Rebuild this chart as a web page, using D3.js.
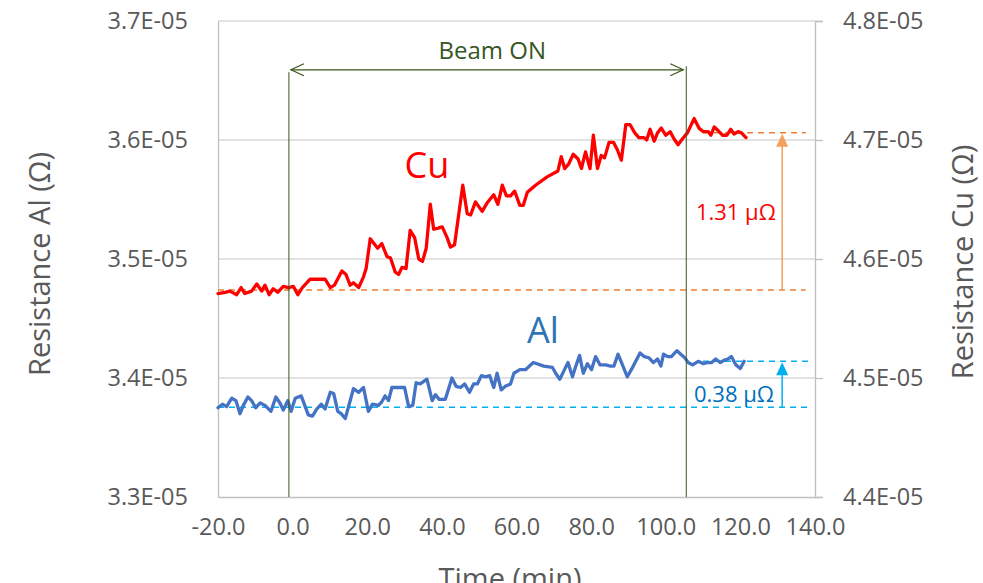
<!doctype html>
<html>
<head>
<meta charset="UTF-8">
<title>Resistance Al / Cu - beam on</title>
<script src="https://d3js.org/d3.v7.min.js"></script>
<style>
  body { margin: 0; background: #fff; }
  svg text { font-family: "Open Sans", "Noto Sans", sans-serif; }
</style>
</head>
<body>
<svg width="983" height="583"></svg>
<script>
// time in minutes, resistance in micro-ohm (1 uOhm = 1E-06 Ohm)
var cuTime = [-20.0,-18.1,-16.8,-15.0,-13.8,-12.8,-11.0,-9.6,-8.3,-7.4,
  -6.3,-5.2,-4.0,-2.5,-1.1,0.2,1.4,2.6,4.7,6.0,
  8.7,10.1,11.2,13.2,14.3,15.4,16.3,17.7,19.0,19.7,
  20.8,22.8,23.9,25.3,26.2,27.5,28.4,29.3,30.4,31.5,
  32.7,33.8,34.8,35.8,36.9,37.8,39.0,40.1,41.4,42.3,
  43.4,45.6,46.8,47.7,49.0,50.8,52.1,53.9,55.0,56.2,
  57.3,58.4,59.5,60.9,61.8,62.9,65.1,68.2,71.1,72.0,
  72.9,74.0,75.2,76.5,77.4,78.5,79.7,80.6,81.7,82.7,
  83.6,84.8,86.0,87.0,88.1,89.3,90.4,91.7,92.8,94.2,
  94.9,95.8,96.9,97.8,98.8,100.0,101.2,102.2,103.3,104.5,
  105.8,107.6,108.9,110.1,111.4,112.1,113.0,114.0,115.2,116.4,
  117.4,118.3,119.4,120.3,121.5];
var cuValue = [45.71,45.72,45.73,45.70,45.76,45.71,45.73,45.79,45.73,45.78,
  45.70,45.75,45.72,45.77,45.76,45.77,45.70,45.76,45.83,45.83,
  45.83,45.76,45.78,45.90,45.87,45.78,45.80,45.76,45.85,45.92,
  46.17,46.09,46.13,46.02,46.01,45.89,45.87,45.93,45.92,46.24,
  46.18,46.00,45.98,46.09,46.46,46.25,46.26,46.27,46.18,46.10,
  46.12,46.62,46.38,46.37,46.48,46.40,46.47,46.54,46.46,46.62,
  46.53,46.53,46.57,46.45,46.45,46.56,46.62,46.69,46.74,46.86,
  46.76,46.80,46.88,46.84,46.76,46.90,46.76,47.04,46.76,46.87,
  46.85,46.98,46.98,46.92,46.83,47.13,47.13,47.06,47.02,47.02,
  47.00,47.09,46.99,47.06,47.10,47.04,47.07,47.01,46.96,47.01,
  47.06,47.18,47.10,47.07,47.07,47.04,47.11,47.08,47.04,47.04,
  47.09,47.05,47.07,47.06,47.02];

var alTime = [-20.0,-18.8,-17.7,-16.3,-15.2,-14.1,-13.2,-12.0,-11.0,-9.9,
  -8.7,-7.4,-5.8,-4.5,-3.4,-2.5,-1.3,-0.4,0.7,2.3,
  4.2,5.3,6.5,7.7,8.7,10.1,11.0,12.1,13.0,14.1,
  15.0,16.3,17.7,19.0,20.3,21.4,23.0,23.9,24.8,25.7,
  26.6,28.0,30.0,31.1,32.2,33.1,34.2,36.0,37.4,38.3,
  39.3,40.9,42.7,43.8,45.0,46.1,47.4,48.5,49.5,50.6,
  51.7,52.8,53.9,54.8,55.9,57.0,58.4,59.3,60.9,62.4,
  64.5,67.3,69.6,70.5,71.6,72.7,73.8,75.0,75.8,76.9,
  77.9,79.0,80.1,81.2,82.4,83.9,85.2,86.1,87.2,88.4,
  89.7,91.3,93.1,94.2,95.5,96.7,97.8,98.7,99.4,100.5,
  101.5,103.0,104.0,105.1,106.0,107.2,108.7,110.1,111.2,112.3,
  113.4,114.6,115.7,116.7,117.6,118.8,120.0,121.0];
var alValue = [33.75,33.78,33.76,33.83,33.81,33.70,33.77,33.84,33.81,33.75,
  33.79,33.77,33.72,33.84,33.79,33.73,33.81,33.72,33.83,33.85,
  33.69,33.68,33.74,33.78,33.74,33.88,33.87,33.72,33.70,33.66,
  33.76,33.91,33.88,33.92,33.72,33.78,33.77,33.80,33.85,33.81,
  33.92,33.92,33.92,33.76,33.77,33.96,33.95,33.99,33.81,33.86,
  33.82,33.82,34.00,33.93,33.92,33.95,33.88,33.95,33.95,34.02,
  34.01,34.02,33.92,34.04,33.90,33.93,33.95,34.04,34.07,34.07,
  34.13,34.10,34.09,34.04,33.99,34.06,34.13,34.01,34.09,34.19,
  34.04,34.12,34.07,34.18,34.11,34.11,34.10,34.10,34.20,34.11,
  34.01,34.10,34.21,34.18,34.17,34.13,34.16,34.10,34.20,34.18,
  34.18,34.23,34.20,34.17,34.13,34.11,34.14,34.12,34.13,34.13,
  34.16,34.13,34.15,34.16,34.18,34.11,34.08,34.14];

var xTicks = [-20, 0, 20, 40, 60, 80, 100, 120, 140];
var xTickLabels = ["-20.0","0.0","20.0","40.0","60.0","80.0","100.0","120.0","140.0"];
var alTicks = [33, 34, 35, 36, 37];
var alTickLabels = ["3.3E-05","3.4E-05","3.5E-05","3.6E-05","3.7E-05"];
var cuTicks = [44, 45, 46, 47, 48];
var cuTickLabels = ["4.4E-05","4.5E-05","4.6E-05","4.7E-05","4.8E-05"];

// annotation values
var beamOn = [-1, 105.5];
var cuShift = [45.74, 47.06];
var alShift = [33.755, 34.14];

var svg = d3.select("svg");
var plotL = 218, plotR = 815, plotT = 21, plotB = 497;

var x = d3.scaleLinear().domain([-20, 140]).range([plotL, plotR]);
var yAl = d3.scaleLinear().domain([33, 37]).range([plotB, plotT]);
var yCu = d3.scaleLinear().domain([44, 48]).range([plotB, plotT]);

var grey = "#595959";

// gridlines
svg.append("g").selectAll("line").data(alTicks.slice(1)).enter().append("line")
  .attr("x1", plotL).attr("x2", plotR)
  .attr("y1", function(d){ return yAl(d); }).attr("y2", function(d){ return yAl(d); })
  .attr("stroke", "#D9D9D9").attr("stroke-width", 1.3);

// axes
var gLeft = svg.append("g").attr("transform", "translate(" + plotL + ",0)")
  .call(d3.axisLeft(yAl).tickValues(alTicks).tickFormat(function(d,i){ return alTickLabels[i]; })
    .tickSize(0).tickPadding(30));
var gRight = svg.append("g").attr("transform", "translate(" + plotR + ",0)")
  .call(d3.axisRight(yCu).tickValues(cuTicks).tickFormat(function(d,i){ return cuTickLabels[i]; })
    .tickSize(8).tickPadding(20));
var gBottom = svg.append("g").attr("transform", "translate(0," + plotB + ")")
  .call(d3.axisBottom(x).tickValues(xTicks).tickFormat(function(d,i){ return xTickLabels[i]; })
    .tickSize(0).tickPadding(21));

[gLeft, gRight, gBottom].forEach(function(g){
  g.selectAll("path.domain").attr("stroke", "#BFBFBF").attr("stroke-width", 1.3);
  g.selectAll(".tick line").attr("stroke", "#BFBFBF").attr("stroke-width", 1.3);
  g.selectAll("text").attr("fill", grey).style("font-size", "23.5px")
    .style("font-family", "'Open Sans', sans-serif");
});

// axis titles
svg.append("text").attr("transform", "translate(50,264) rotate(-90)")
  .attr("text-anchor", "middle").attr("fill", grey).style("font-size", "29px")
  .text("Resistance Al (Ω)");
svg.append("text").attr("transform", "translate(973,262) rotate(-90)")
  .attr("text-anchor", "middle").attr("fill", grey).style("font-size", "29px")
  .text("Resistance Cu (Ω)");
svg.append("text").attr("x", 510).attr("y", 589)
  .attr("text-anchor", "middle").attr("fill", grey).style("font-size", "29px")
  .text("Time (min)");

// dashed reference levels
var dash = svg.append("g").attr("stroke-width", 1.5).attr("stroke-dasharray", "6,5").attr("fill", "none");
dash.append("line").attr("x1", x(-20)).attr("x2", x(137.5))
  .attr("y1", yCu(cuShift[0])).attr("y2", yCu(cuShift[0])).attr("stroke", "#ED7D31");
dash.append("line").attr("x1", x(110)).attr("x2", x(137.5))
  .attr("y1", yCu(cuShift[1])).attr("y2", yCu(cuShift[1])).attr("stroke", "#ED7D31");
dash.append("line").attr("x1", x(-20)).attr("x2", x(138.5))
  .attr("y1", yAl(alShift[0])).attr("y2", yAl(alShift[0])).attr("stroke", "#00B0F0");
dash.append("line").attr("x1", x(110)).attr("x2", x(138.5))
  .attr("y1", yAl(alShift[1])).attr("y2", yAl(alShift[1])).attr("stroke", "#00B0F0");

// series
var line = d3.line().x(function(d){ return x(d[0]); });
svg.append("path").datum(d3.zip(alTime, alValue))
  .attr("d", line.y(function(d){ return yAl(d[1]); }))
  .attr("fill", "none").attr("stroke", "#4472C4").attr("stroke-width", 3.3)
  .attr("stroke-linejoin", "round").attr("stroke-linecap", "round");
svg.append("path").datum(d3.zip(cuTime, cuValue))
  .attr("d", line.y(function(d){ return yCu(d[1]); }))
  .attr("fill", "none").attr("stroke", "#FF0000").attr("stroke-width", 3.3)
  .attr("stroke-linejoin", "round").attr("stroke-linecap", "round");

// shift arrows
function upArrow(xp, y0, y1, color){
  svg.append("line").attr("x1", xp).attr("x2", xp).attr("y1", y0).attr("y2", y1 + 12)
    .attr("stroke", color).attr("stroke-width", 1.5);
  svg.append("path").attr("d", "M" + xp + "," + y1 + " L" + (xp - 6) + "," + (y1 + 13) + " L" + (xp + 6) + "," + (y1 + 13) + " Z")
    .attr("fill", color);
}
upArrow(x(131.2), yCu(cuShift[0]), yCu(cuShift[1]) + 1, "#F4A05E");
upArrow(x(131.2), yAl(alShift[0]), yAl(alShift[1]) + 1, "#00B0F0");

svg.append("text").attr("x", x(118.8)).attr("y", yCu(46.39)).attr("dy", "0.35em")
  .attr("text-anchor", "middle").attr("fill", "#FF0000").style("font-size", "22px")
  .text("1.31 μΩ");
svg.append("text").attr("x", x(118.3)).attr("y", yAl(33.86)).attr("dy", "0.35em")
  .attr("text-anchor", "middle").attr("fill", "#0070C0").style("font-size", "22px")
  .text("0.38 μΩ");

// series labels
svg.append("text").attr("x", x(36.0)).attr("y", yCu(46.79)).attr("dy", "0.35em")
  .attr("text-anchor", "middle").attr("fill", "#FF0000").style("font-size", "36px").text("Cu");
svg.append("text").attr("x", x(67.1)).attr("y", yAl(34.40)).attr("dy", "0.35em")
  .attr("text-anchor", "middle").attr("fill", "#2E75B6").style("font-size", "36px").text("Al");

// beam on markers
var green = "#38571A";
svg.append("line").attr("x1", x(beamOn[0])).attr("x2", x(beamOn[0]))
  .attr("y1", yAl(36.57)).attr("y2", plotB).attr("stroke", green).attr("stroke-width", 1);
svg.append("line").attr("x1", x(beamOn[1])).attr("x2", x(beamOn[1]))
  .attr("y1", yAl(36.62)).attr("y2", plotB).attr("stroke", green).attr("stroke-width", 1);
var ay = yAl(36.59), ax0 = x(beamOn[0]) + 2, ax1 = x(beamOn[1]) - 3;
svg.append("line").attr("x1", ax0).attr("x2", ax1).attr("y1", ay).attr("y2", ay)
  .attr("stroke", green).attr("stroke-width", 1.2);
svg.append("path").attr("d", "M" + (ax0 + 13) + "," + (ay - 6) + " L" + ax0 + "," + ay + " L" + (ax0 + 13) + "," + (ay + 6))
  .attr("fill", "none").attr("stroke", green).attr("stroke-width", 1.2);
svg.append("path").attr("d", "M" + (ax1 - 13) + "," + (ay - 6) + " L" + ax1 + "," + ay + " L" + (ax1 - 13) + "," + (ay + 6))
  .attr("fill", "none").attr("stroke", green).attr("stroke-width", 1.2);
svg.append("text").attr("x", x(53.5)).attr("y", yAl(36.75)).attr("dy", "0.35em")
  .attr("text-anchor", "middle").attr("fill", "#375623").style("font-size", "24px")
  .text("Beam ON");
</script>
</body>
</html>
